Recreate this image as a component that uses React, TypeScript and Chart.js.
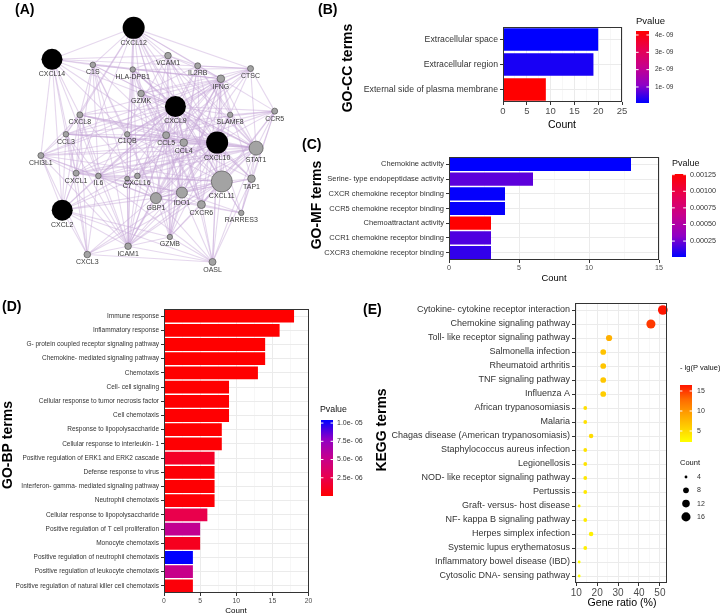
import React, { useEffect, useRef } from 'react';
import { Chart, registerables } from 'chart.js';

Chart.register(...registerables);

const FONT = "'Liberation Sans', Arial, Helvetica, sans-serif";
Chart.defaults.font.family = FONT;

// ---------------- Panel A: gene network ----------------
const geneNames = ['CXCL12', 'CXCL14', 'C1S', 'HLA-DPB1', 'VCAM1', 'IL2RB', 'IFNG', 'CTSC', 'GZMK', 'CXCL9', 'SLAMF8', 'CCR5', 'CXCL8', 'CCL3', 'C1QB', 'CCL5', 'CCL4', 'CXCL10', 'STAT1', 'CHI3L1', 'CXCL1', 'IL6', 'C7', 'CXCL16', 'GBP1', 'IDO1', 'CXCL11', 'CXCR6', 'TAP1', 'RARRES3', 'CXCL2', 'GZMB', 'ICAM1', 'CXCL3', 'OASL'];
const geneX = [132, 44, 88, 131, 169, 201, 226, 258, 140, 177, 236, 284, 74, 59, 125, 167, 186, 222, 264, 32, 70, 94, 125, 136, 156, 184, 227, 205, 259, 248, 55, 171, 126, 82, 217];
const geneY = [18, 52, 58, 63, 48, 59, 73, 62, 89, 103, 112, 108, 112, 133, 133, 134, 142, 142, 148, 156, 175, 178, 181, 178, 202, 196, 184, 209, 181, 218, 215, 244, 254, 263, 271];
const geneDegree = [11, 10.5, 2.8, 2.7, 3.3, 3, 3.8, 3, 3.3, 10.5, 2.7, 3, 3, 2.8, 2.7, 3.5, 3.8, 11, 7, 3, 3, 2.8, 2.5, 2.8, 5.5, 5.5, 10.5, 4, 3.8, 2.7, 10.5, 2.7, 3.3, 3.3, 3.5];
const geneHub = ['CXCL12', 'CXCL14', 'CXCL9', 'CXCL10', 'CXCL2'];
const geneEdges: [string, string[]][] = [
  ['CXCL12', ['CXCL14', 'C1S', 'HLA-DPB1', 'VCAM1', 'IL2RB', 'CTSC', 'GZMK', 'CXCL9', 'CXCL10', 'CXCL11', 'CCL5', 'CCL4', 'C1QB', 'CXCL8', 'CCL3', 'ICAM1', 'CXCL2', 'IDO1', 'STAT1', 'IFNG']],
  ['CXCL14', ['C1S', 'VCAM1', 'IFNG', 'CHI3L1', 'CCL3', 'CXCL8', 'CXCL9', 'CXCL2', 'CXCL1', 'IL6', 'C1QB', 'CTSC', 'CCL5']],
  ['C1S', ['HLA-DPB1', 'C1QB', 'C7', 'CXCL8', 'CXCL9', 'ICAM1', 'CCL5', 'STAT1', 'IFNG', 'CXCL1', 'GBP1', 'IL6']],
  ['HLA-DPB1', ['GZMK', 'CXCL9', 'CXCL10', 'CCL5', 'IFNG', 'STAT1', 'ICAM1', 'GBP1', 'IDO1', 'C1QB', 'CTSC', 'TAP1', 'CXCL16', 'VCAM1']],
  ['VCAM1', ['IL2RB', 'IFNG', 'CXCL9', 'CXCL10', 'CCL5', 'ICAM1', 'STAT1', 'GZMB', 'IL6', 'CXCL11']],
  ['IL2RB', ['IFNG', 'GZMK', 'GZMB', 'CXCL9', 'CXCL10', 'STAT1', 'CCL5', 'CCL4', 'CXCR6', 'SLAMF8', 'CTSC']],
  ['IFNG', ['CTSC', 'GZMK', 'CXCL9', 'CXCL10', 'CXCL11', 'STAT1', 'CCL5', 'CCL4', 'IDO1', 'GBP1', 'TAP1', 'ICAM1', 'IL6', 'CXCL8', 'C1QB', 'CCR5', 'SLAMF8', 'GZMB', 'OASL', 'CXCR6', 'CXCL16', 'CCL3', 'CHI3L1']],
  ['CTSC', ['GZMK', 'CXCL9', 'CCL5', 'STAT1', 'CXCL10', 'CCR5', 'C1QB', 'GBP1', 'CXCL16']],
  ['GZMK', ['CXCL9', 'CCL5', 'CCL4', 'CXCL10', 'GZMB', 'CXCR6', 'STAT1']],
  ['CXCL9', ['CXCL10', 'CXCL11', 'STAT1', 'CCL5', 'CCL4', 'CCL3', 'IDO1', 'GBP1', 'TAP1', 'CCR5', 'SLAMF8', 'CXCL8', 'CXCL1', 'CXCL2', 'IL6', 'ICAM1', 'GZMB', 'CXCR6', 'OASL', 'CXCL16', 'C1QB', 'CHI3L1', 'C7', 'RARRES3']],
  ['SLAMF8', ['CXCL10', 'STAT1', 'CXCL11', 'CCL5', 'IDO1', 'GBP1', 'CCR5']],
  ['CCR5', ['CXCL10', 'STAT1', 'CCL5', 'CCL4', 'CCL3', 'CXCL11', 'RARRES3', 'TAP1', 'CXCR6']],
  ['CXCL8', ['CCL3', 'CXCL1', 'CXCL2', 'CHI3L1', 'IL6', 'CXCL10', 'ICAM1', 'CCL4', 'STAT1', 'CXCL3', 'CCL5', 'CXCL16']],
  ['CCL3', ['CCL4', 'CCL5', 'CXCL1', 'CXCL2', 'CHI3L1', 'IL6', 'CXCL10', 'ICAM1', 'CXCL3', 'STAT1']],
  ['C1QB', ['CXCL10', 'STAT1', 'CCL5', 'C7', 'GBP1', 'IDO1', 'ICAM1', 'CXCL11']],
  ['CCL5', ['CCL4', 'CXCL10', 'CXCL11', 'STAT1', 'IDO1', 'GBP1', 'CXCR6', 'ICAM1', 'GZMB', 'TAP1', 'CXCL16', 'IL6', 'CXCL1', 'CHI3L1']],
  ['CCL4', ['CXCL10', 'CXCL11', 'STAT1', 'IDO1', 'CXCR6', 'GZMB', 'CXCL2', 'ICAM1']],
  ['CXCL10', ['CXCL11', 'STAT1', 'TAP1', 'IDO1', 'GBP1', 'CXCR6', 'RARRES3', 'OASL', 'GZMB', 'ICAM1', 'IL6', 'CXCL1', 'CXCL2', 'CXCL3', 'CHI3L1', 'CXCL16', 'C7']],
  ['STAT1', ['CXCL11', 'TAP1', 'IDO1', 'GBP1', 'OASL', 'RARRES3', 'ICAM1', 'IL6', 'CHI3L1', 'CXCL1', 'CXCR6', 'CXCL16']],
  ['CHI3L1', ['CXCL1', 'CXCL2', 'IL6', 'CXCL3', 'ICAM1', 'CXCL11', 'GBP1']],
  ['CXCL1', ['CXCL2', 'CXCL3', 'IL6', 'ICAM1', 'CXCL11', 'IDO1']],
  ['IL6', ['CXCL2', 'ICAM1', 'CXCL3', 'IDO1', 'CXCL11', 'GBP1', 'OASL', 'C7']],
  ['C7', ['ICAM1', 'GBP1', 'CXCL16']],
  ['CXCL16', ['CXCR6', 'CXCL11', 'GBP1', 'ICAM1']],
  ['GBP1', ['IDO1', 'CXCL11', 'TAP1', 'OASL', 'ICAM1', 'GZMB', 'CXCR6', 'CXCL2', 'RARRES3']],
  ['IDO1', ['CXCL11', 'TAP1', 'OASL', 'GZMB', 'ICAM1', 'CXCL3', 'RARRES3']],
  ['CXCL11', ['CXCR6', 'TAP1', 'RARRES3', 'OASL', 'GZMB', 'ICAM1', 'CXCL2', 'CXCL3']],
  ['CXCR6', ['GZMB', 'OASL', 'RARRES3']],
  ['TAP1', ['RARRES3', 'OASL']],
  ['CXCL2', ['CXCL3', 'ICAM1', 'OASL', 'GZMB']],
  ['GZMB', ['ICAM1', 'OASL']],
  ['ICAM1', ['CXCL3', 'OASL']],
  ['CXCL3', ['OASL']],
];

// ---------------- Panel B: GO-CC ----------------
const ccTerms = ['Extracellular space', 'Extracellular region', 'External side of plasma membrane'];
const ccCount = [20, 19, 9];
const ccPvalue = [7.5e-11, 2.5e-10, 4.23e-9];
const ccTicks = [1e-9, 2e-9, 3e-9, 4e-9];
const ccTickLabels = ['1e- 09', '2e- 09', '3e- 09', '4e- 09'];

// ---------------- Panel C: GO-MF ----------------
const mfTerms = ['Chemokine activity', 'Serine- type endopeptidase activity', 'CXCR chemokine receptor binding', 'CCR5 chemokine receptor binding', 'Chemoattractant activity', 'CCR1 chemokine receptor binding', 'CXCR3 chemokine receptor binding'];
const mfCount = [13, 6, 4, 4, 3, 3, 3];
const mfPvalue = [1.0e-5, 2.1e-4, 2.0e-5, 2.5e-5, 1.26e-3, 1.8e-4, 1.2e-4];
const mfTicks = [0.00125, 0.001, 0.00075, 0.0005, 0.00025];
const mfTickLabels = ['0.00125', '0.00100', '0.00075', '0.00050', '0.00025'];

// ---------------- Panel D: GO-BP ----------------
const bpTerms = ['Immune response', 'Inflammatory response', 'G- protein coupled receptor signaling pathway', 'Chemokine- mediated signaling pathway', 'Chemotaxis', 'Cell- cell signaling', 'Cellular response to tumor necrosis factor', 'Cell chemotaxis', 'Response to lipopolysaccharide', 'Cellular response to interleukin- 1', 'Positive regulation of ERK1 and ERK2 cascade', 'Defense response to virus', 'Interferon- gamma- mediated signaling pathway', 'Neutrophil chemotaxis', 'Cellular response to lipopolysaccharide', 'Positive regulation of T cell proliferation', 'Monocyte chemotaxis', 'Positive regulation of neutrophil chemotaxis', 'Positive regulation of leukocyte chemotaxis', 'Positive regulation of natural killer cell chemotaxis'];
const bpCount = [18, 16, 14, 14, 13, 9, 9, 9, 8, 8, 7, 7, 7, 7, 6, 5, 5, 4, 4, 4];
const bpPvalue = [1e-12, 3e-11, 1e-10, 2e-10, 5e-10, 1e-8, 2e-8, 5e-8, 3e-8, 1e-7, 1.25e-6, 2e-7, 1e-7, 1.5e-7, 2.5e-6, 5.4e-6, 1.0e-6, 1.042e-5, 5.1e-6, 3e-7];
const bpTicks = [1.0e-5, 7.5e-6, 5.0e-6, 2.5e-6];
const bpTickLabels = ['1.0e- 05', '7.5e- 06', '5.0e- 06', '2.5e- 06'];

// ---------------- Panel E: KEGG ----------------
const keggTerms = ['Cytokine- cytokine receptor interaction', 'Chemokine signaling pathway', 'Toll- like receptor signaling pathway', 'Salmonella infection', 'Rheumatoid arthritis', 'TNF signaling pathway', 'Influenza A', 'African trypanosomiasis', 'Malaria', 'Chagas disease (American trypanosomiasis)', 'Staphylococcus aureus infection', 'Legionellosis', 'NOD- like receptor signaling pathway', 'Pertussis', 'Graft- versus- host disease', 'NF- kappa B signaling pathway', 'Herpes simplex infection', 'Systemic lupus erythematosus', 'Inflammatory bowel disease (IBD)', 'Cytosolic DNA- sensing pathway'];
const keggRatio = [51.4, 45.7, 25.7, 22.9, 22.9, 22.9, 22.9, 14.3, 14.3, 17.1, 14.3, 14.3, 14.3, 14.3, 11.4, 14.3, 17.1, 14.3, 11.4, 11.4];
const keggCount = [18, 16, 9, 8, 8, 8, 8, 5, 5, 6, 5, 5, 5, 5, 4, 5, 6, 5, 4, 4];
const keggLgP = [16.5, 15.0, 8.2, 6.8, 6.6, 6.5, 6.0, 4.6, 4.5, 4.9, 4.4, 4.3, 4.0, 3.9, 3.1, 3.7, 3.3, 3.4, 2.3, 2.25];
const keggColorTicks = [15, 10, 5];
const keggSizeTicks = [4, 8, 12, 16];

// ---------------- helpers ----------------
const RED_TO_BLUE = ['#ff0000', '#e8004f', '#c6008d', '#8f00c6', '#0000ff'];
const BLUE_TO_RED = [...RED_TO_BLUE].reverse();
const RED_TO_YELLOW = ['#ff1500', '#ff6a00', '#ffa000', '#ffd000', '#ffff00'];

function hexRgb(h: string) {
  return [parseInt(h.slice(1, 3), 16), parseInt(h.slice(3, 5), 16), parseInt(h.slice(5, 7), 16)];
}
function mixStops(stops: string[], t: number) {
  t = Math.max(0, Math.min(1, t));
  const n = stops.length - 1;
  const i = Math.min(n - 1, Math.floor(t * n));
  const f = t * n - i;
  const a = hexRgb(stops[i]);
  const b = hexRgb(stops[i + 1]);
  const c = a.map((v, k) => Math.round(v + (b[k] - v) * f));
  return `rgb(${c[0]},${c[1]},${c[2]})`;
}
// colour for value v on a colour bar whose top = max, bottom = min
function colorAt(v: number, min: number, max: number, topToBottom: string[]) {
  return mixStops(topToBottom, (max - v) / (max - min));
}
function sizeForCount(c: number) {
  return Math.sqrt(2 + (c - 4) * 1.55);
}

function txt(ctx: any, s: string, x: number, y: number, size: number, o: any = {}) {
  ctx.save();
  ctx.font = `${o.bold ? 'bold ' : ''}${size}px ${FONT}`;
  ctx.fillStyle = o.color || '#000';
  ctx.textAlign = o.align || 'center';
  ctx.textBaseline = 'middle';
  ctx.translate(x, y);
  if (o.rotate) ctx.rotate(-Math.PI / 2);
  ctx.fillText(s, 0, 0);
  ctx.restore();
}

function drawColorbar(ctx: any, b: any) {
  txt(ctx, b.title, b.titleX, b.titleY, b.titleSize, { align: 'left', color: '#111' });
  const g = ctx.createLinearGradient(0, b.y, 0, b.y + b.h);
  b.stops.forEach((c: string, i: number) => g.addColorStop(i / (b.stops.length - 1), c));
  ctx.fillStyle = g;
  ctx.fillRect(b.x, b.y, b.w, b.h);
  b.ticks.forEach((v: number, i: number) => {
    const ty = b.y + ((b.max - v) / (b.max - b.min)) * b.h;
    ctx.save();
    ctx.strokeStyle = '#ffffff';
    ctx.lineWidth = 1;
    ctx.beginPath();
    ctx.moveTo(b.x, ty);
    ctx.lineTo(b.x + b.w * 0.2, ty);
    ctx.moveTo(b.x + b.w * 0.8, ty);
    ctx.lineTo(b.x + b.w, ty);
    ctx.stroke();
    ctx.restore();
    txt(ctx, b.labels[i], b.labelX, ty, b.labelSize, { align: 'left', color: '#333' });
  });
}

function decoPlugin(draw: (chart: any, ctx: any) => void, frame = true) {
  return {
    id: 'deco',
    afterDraw(chart: any) {
      const ctx = chart.ctx;
      ctx.save();
      if (frame) {
        const a = chart.chartArea;
        ctx.strokeStyle = '#333';
        ctx.lineWidth = 1;
        ctx.strokeRect(Math.round(a.left) + 0.5, Math.round(a.top) + 0.5, Math.round(a.right - a.left) - 1, Math.round(a.bottom - a.top) - 1);
      }
      draw(chart, ctx);
      ctx.restore();
    },
  };
}

function isMajor(v: number, major: number) {
  return Math.abs(v / major - Math.round(v / major)) < 1e-6;
}

function valueAxis(min: number, max: number, step: number, major: number, font: number, height: number, extra: any = {}) {
  return {
    type: 'linear',
    min,
    max,
    afterFit: (sc: any) => { sc.height = height; },
    border: { display: false },
    ticks: {
      stepSize: step,
      autoSkip: false,
      maxRotation: 0,
      padding: 1,
      color: '#4d4d4d',
      font: { family: FONT, size: font },
      callback: (v: any) => (isMajor(Number(v), major) ? String(v) : ''),
      ...extra,
    },
    grid: {
      drawTicks: true,
      tickLength: 3,
      color: (c: any) => (isMajor(c.tick.value, major) ? '#ebebeb' : '#f3f3f3'),
      lineWidth: (c: any) => (isMajor(c.tick.value, major) ? 1 : 0.7),
      tickColor: (c: any) => (isMajor(c.tick.value, major) ? '#333' : 'rgba(0,0,0,0)'),
    },
  };
}

function categoryAxis(width: number, font: number, extra: any = {}) {
  return {
    type: 'category',
    afterFit: (sc: any) => { sc.width = width; },
    border: { display: false },
    ticks: { autoSkip: false, padding: 2, color: '#333', font: { family: FONT, size: font } },
    grid: { offset: false, drawTicks: true, tickLength: 3, color: '#ebebeb', tickColor: '#333' },
    ...extra,
  };
}

function barConfig(s: any) {
  return {
    type: 'bar',
    data: {
      labels: s.terms,
      datasets: [{ data: s.counts, backgroundColor: s.colors, borderWidth: 0, categoryPercentage: 0.9, barPercentage: 1 }],
    },
    plugins: [decoPlugin(s.deco)],
    options: {
      responsive: false,
      animation: false,
      devicePixelRatio: 1,
      indexAxis: 'y',
      events: [],
      layout: { padding: { left: 0, top: s.plotTop, right: s.width - s.plotRight, bottom: 0 } },
      plugins: { legend: { display: false }, tooltip: { enabled: false } },
      scales: {
        x: valueAxis(0, s.xMax, s.step, s.major, s.xFont, s.height - s.plotBottom),
        y: categoryAxis(s.plotLeft, s.yFont),
      },
    },
  };
}

// ---------------- panel configs ----------------
function configA() {
  const idx = (n: string) => geneNames.indexOf(n);
  return {
    type: 'scatter',
    data: {
      datasets: [{
        data: geneNames.map((_, i) => ({ x: geneX[i], y: geneY[i] })),
        pointRadius: geneDegree,
        pointBackgroundColor: geneNames.map((n) => (geneHub.includes(n) ? '#000000' : '#a3a3a3')),
        pointBorderColor: geneNames.map((n) => (geneHub.includes(n) ? '#000000' : '#555555')),
        pointBorderWidth: geneNames.map((n) => (geneHub.includes(n) ? 0 : 0.7)),
        clip: false,
      }],
    },
    plugins: [{
      id: 'network',
      beforeDatasetsDraw(chart: any) {
        const ctx = chart.ctx;
        const xs = chart.scales.x;
        const ys = chart.scales.y;
        ctx.save();
        ctx.strokeStyle = 'rgba(198,166,214,0.45)';
        ctx.lineWidth = 1.1;
        geneEdges.forEach(([a, bs]) => {
          const i = idx(a);
          bs.forEach((b) => {
            const j = idx(b);
            ctx.beginPath();
            ctx.moveTo(xs.getPixelForValue(geneX[i]), ys.getPixelForValue(geneY[i]));
            ctx.lineTo(xs.getPixelForValue(geneX[j]), ys.getPixelForValue(geneY[j]));
            ctx.stroke();
          });
        });
        ctx.restore();
      },
      afterDatasetsDraw(chart: any) {
        const ctx = chart.ctx;
        const xs = chart.scales.x;
        const ys = chart.scales.y;
        geneNames.forEach((n, i) => {
          txt(ctx, n, xs.getPixelForValue(geneX[i]), ys.getPixelForValue(geneY[i]) + geneDegree[i] + 4.5, 7, { color: '#3a3a3a' });
        });
        txt(ctx, '(A)', 15, 10, 14, { bold: true, align: 'left' });
      },
    }],
    options: {
      responsive: false,
      animation: false,
      devicePixelRatio: 1,
      events: [],
      layout: { padding: 0 },
      plugins: { legend: { display: false }, tooltip: { enabled: false } },
      scales: {
        x: { type: 'linear', display: false, min: 0, max: 310 },
        y: { type: 'linear', display: false, min: 0, max: 300, reverse: true },
      },
    },
  };
}

function configB() {
  const min = Math.min(...ccPvalue);
  const max = Math.max(...ccPvalue);
  return barConfig({
    terms: ccTerms, counts: ccCount,
    colors: ccPvalue.map((p) => colorAt(p, min, max, RED_TO_BLUE)),
    width: 420, height: 140, plotLeft: 203, plotRight: 322, plotTop: 27, plotBottom: 102,
    xMax: 25, step: 2.5, major: 5, xFont: 9.5, yFont: 8.7,
    deco: (chart: any, ctx: any) => {
      txt(ctx, '(B)', 18, 10, 14, { bold: true, align: 'left' });
      txt(ctx, 'GO-CC terms', 48, 68, 14, { bold: true, rotate: true });
      txt(ctx, 'Count', 262, 125, 10.5);
      drawColorbar(ctx, {
        title: 'Pvalue', titleX: 336, titleY: 21, titleSize: 9.5,
        x: 336, y: 31, w: 13, h: 72, min, max, stops: RED_TO_BLUE,
        ticks: ccTicks, labels: ccTickLabels, labelX: 355, labelSize: 6.5,
      });
    },
  });
}

function configC() {
  const min = Math.min(...mfPvalue);
  const max = Math.max(...mfPvalue);
  return barConfig({
    terms: mfTerms, counts: mfCount,
    colors: mfPvalue.map((p) => colorAt(p, min, max, RED_TO_BLUE)),
    width: 420, height: 165, plotLeft: 149, plotRight: 359, plotTop: 22, plotBottom: 125,
    xMax: 15, step: 2.5, major: 5, xFont: 7.2, yFont: 7.5,
    deco: (chart: any, ctx: any) => {
      txt(ctx, '(C)', 2, 10, 14, { bold: true, align: 'left' });
      txt(ctx, 'GO-MF terms', 17, 70, 14, { bold: true, rotate: true });
      txt(ctx, 'Count', 254, 143, 9.4);
      drawColorbar(ctx, {
        title: 'Pvalue', titleX: 372, titleY: 29, titleSize: 9,
        x: 372, y: 39, w: 14, h: 83, min, max, stops: RED_TO_BLUE,
        ticks: mfTicks, labels: mfTickLabels, labelX: 390, labelSize: 7.2,
      });
    },
  });
}

function configD() {
  const min = Math.min(...bpPvalue);
  const max = Math.max(...bpPvalue);
  return barConfig({
    terms: bpTerms, counts: bpCount,
    colors: bpPvalue.map((p) => colorAt(p, min, max, BLUE_TO_RED)),
    width: 370, height: 320, plotLeft: 164, plotRight: 308.5, plotTop: 14, plotBottom: 298,
    xMax: 20, step: 2.5, major: 5, xFont: 6.8, yFont: 6.5,
    deco: (chart: any, ctx: any) => {
      txt(ctx, '(D)', 2, 12, 14, { bold: true, align: 'left' });
      txt(ctx, 'GO-BP terms', 8, 150, 14, { bold: true, rotate: true });
      txt(ctx, 'Count', 236, 316, 8);
      drawColorbar(ctx, {
        title: 'Pvalue', titleX: 320, titleY: 115, titleSize: 8.8,
        x: 321, y: 125, w: 12, h: 76, min, max, stops: BLUE_TO_RED,
        ticks: bpTicks, labels: bpTickLabels, labelX: 337, labelSize: 7,
      });
    },
  });
}

function configE() {
  const min = Math.min(...keggLgP);
  const max = Math.max(...keggLgP);
  const plotLeft = 215, plotRight = 307, plotTop = 13, plotBottom = 293, width = 360, height = 325;
  return {
    type: 'scatter',
    data: {
      labels: keggTerms,
      datasets: [{
        data: keggTerms.map((t, i) => ({ x: keggRatio[i], y: t })),
        pointRadius: keggCount.map(sizeForCount),
        pointBackgroundColor: keggLgP.map((v) => colorAt(v, min, max, RED_TO_YELLOW)),
        pointBorderWidth: 0,
        clip: false,
      }],
    },
    plugins: [decoPlugin((chart: any, ctx: any) => {
      txt(ctx, '(E)', 3, 20, 14, { bold: true, align: 'left' });
      txt(ctx, 'KEGG terms', 22, 140, 14, { bold: true, rotate: true });
      txt(ctx, 'Gene ratio (%)', 262, 313, 10.6);
      drawColorbar(ctx, {
        title: '- lg(P value)', titleX: 320, titleY: 78, titleSize: 7.5,
        x: 320, y: 95, w: 12, h: 57, min, max, stops: RED_TO_YELLOW,
        ticks: keggColorTicks, labels: keggColorTicks.map(String), labelX: 337, labelSize: 7,
      });
      txt(ctx, 'Count', 320, 173, 7.5, { align: 'left', color: '#111' });
      keggSizeTicks.forEach((c, i) => {
        const y = 187 + i * 13.3;
        ctx.beginPath();
        ctx.fillStyle = '#000';
        ctx.arc(326, y, sizeForCount(c), 0, Math.PI * 2);
        ctx.fill();
        txt(ctx, String(c), 337, y, 7, { align: 'left', color: '#333' });
      });
    })],
    options: {
      responsive: false,
      animation: false,
      devicePixelRatio: 1,
      events: [],
      layout: { padding: { left: 0, top: plotTop, right: width - plotRight, bottom: 0 } },
      plugins: { legend: { display: false }, tooltip: { enabled: false } },
      scales: {
        x: valueAxis(9.4, 53.4, 5, 10, 10, height - plotBottom, { includeBounds: false }),
        y: categoryAxis(plotLeft, 9, { offset: true, labels: keggTerms }),
      },
    },
  };
}

function Panel(props: { left: number; top: number; width: number; height: number; make: () => any }) {
  const ref = useRef<HTMLCanvasElement>(null);
  useEffect(() => {
    const chart = new Chart(ref.current as HTMLCanvasElement, props.make());
    return () => chart.destroy();
  }, []);
  return (
    <canvas
      ref={ref}
      width={props.width}
      height={props.height}
      style={{ position: 'absolute', left: props.left, top: props.top, width: props.width, height: props.height }}
    />
  );
}

export default function App() {
  return (
    <div style={{ position: 'absolute', left: 0, top: 0, width: 720, height: 615, background: '#ffffff', overflow: 'hidden' }}>
      <Panel left={0} top={0} width={310} height={300} make={configA} />
      <Panel left={300} top={0} width={420} height={140} make={configB} />
      <Panel left={300} top={135} width={420} height={165} make={configC} />
      <Panel left={0} top={295} width={370} height={320} make={configD} />
      <Panel left={360} top={290} width={360} height={325} make={configE} />
    </div>
  );
}
